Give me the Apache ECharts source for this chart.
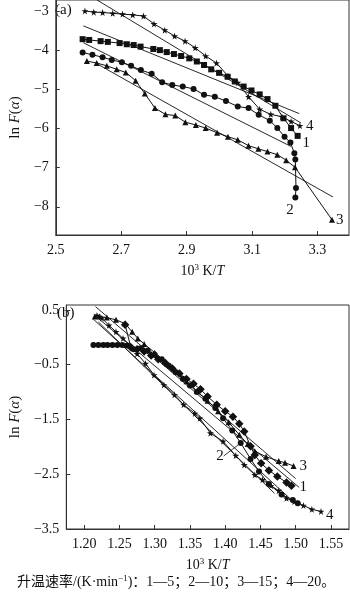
<!DOCTYPE html>
<html><head><meta charset="utf-8">
<script src="https://cdn.jsdelivr.net/npm/echarts@6/dist/echarts.min.js"></script>
<style>html,body{margin:0;padding:0;background:#fff}#c{width:350px;height:592px}</style>
</head><body><div id="c"></div>
<script>
// ---------- Panel (a) data ----------
const aXTicks = [2.5, 2.7, 2.9, 3.1, 3.3];
const aYTicks = [-8, -7, -6, -5, -4, -3];
const aSeries1 = [[2.582,-3.72],[2.602,-3.74],[2.637,-3.77],[2.659,-3.79],[2.695,-3.82],[2.717,-3.85],[2.738,-3.87],[2.759,-3.91],[2.798,-3.97],[2.818,-4.00],[2.839,-4.05],[2.861,-4.10],[2.883,-4.15],[2.908,-4.21],[2.931,-4.29],[2.953,-4.38],[2.975,-4.49],[2.999,-4.58],[3.025,-4.68],[3.047,-4.80],[3.074,-4.93],[3.098,-5.03],[3.123,-5.13],[3.147,-5.25],[3.171,-5.42],[3.196,-5.74],[3.219,-5.99],[3.239,-6.19]];
const aSeries2 = [[2.582,-4.06],[2.612,-4.12],[2.643,-4.18],[2.671,-4.25],[2.702,-4.31],[2.730,-4.40],[2.760,-4.51],[2.793,-4.60],[2.825,-4.82],[2.856,-4.89],[2.888,-4.93],[2.921,-4.99],[2.953,-5.14],[2.986,-5.19],[3.020,-5.30],[3.056,-5.44],[3.089,-5.48],[3.120,-5.65],[3.154,-5.80],[3.177,-5.99],[3.199,-6.21],[3.217,-6.36],[3.229,-6.63],[3.232,-6.79],[3.234,-7.52],[3.232,-7.76]];
const aSeries3 = [[2.595,-4.28],[2.625,-4.33],[2.656,-4.40],[2.686,-4.49],[2.714,-4.57],[2.744,-4.78],[2.772,-5.11],[2.803,-5.48],[2.835,-5.64],[2.865,-5.67],[2.896,-5.84],[2.928,-5.91],[2.958,-5.99],[2.993,-6.11],[3.026,-6.21],[3.056,-6.29],[3.089,-6.44],[3.119,-6.52],[3.147,-6.59],[3.177,-6.67],[3.204,-6.81],[3.231,-6.99],[3.344,-8.33]];
const aSeries4 = [[2.589,-3.00],[2.616,-3.03],[2.643,-3.04],[2.674,-3.06],[2.704,-3.08],[2.735,-3.10],[2.768,-3.13],[2.800,-3.33],[2.833,-3.49],[2.863,-3.64],[2.895,-3.77],[2.926,-3.94],[2.958,-4.15],[2.991,-4.33],[3.026,-4.66],[3.056,-4.83],[3.089,-5.19],[3.123,-5.51],[3.157,-5.64],[3.191,-5.70],[3.219,-5.82],[3.246,-5.93]];
const aFit1 = [[2.584,-3.38],[3.244,-5.62]];
const aFit2 = [[2.584,-3.81],[3.219,-6.46]];
const aFit3 = [[2.622,-4.33],[3.347,-7.75]];
const aFit4 = [[2.626,-2.72],[3.249,-5.86]];

// ---------- Panel (b) data ----------
const bXTicks = [1.20, 1.25, 1.30, 1.35, 1.40, 1.45, 1.50, 1.55];
const bYTicks = [-3.5, -2.5, -1.5, -0.5, 0.5];
const bSeries1 = [[1.258,0.23],[1.266,-0.18],[1.275,-0.22],[1.285,-0.26],[1.295,-0.33],[1.305,-0.40],[1.315,-0.47],[1.325,-0.57],[1.335,-0.66],[1.345,-0.76],[1.355,-0.85],[1.365,-0.95],[1.375,-1.08],[1.388,-1.23],[1.400,-1.35],[1.411,-1.45],[1.420,-1.58],[1.427,-1.72],[1.436,-1.99],[1.442,-2.15],[1.451,-2.30],[1.462,-2.43],[1.474,-2.54],[1.487,-2.65],[1.494,-2.71]];
const bSeries2 = [[1.213,-0.14],[1.220,-0.14],[1.227,-0.14],[1.233,-0.14],[1.240,-0.14],[1.247,-0.14],[1.254,-0.14],[1.261,-0.15],[1.270,-0.22],[1.280,-0.20],[1.290,-0.24],[1.300,-0.32],[1.310,-0.40],[1.320,-0.52],[1.330,-0.64],[1.340,-0.76],[1.350,-0.88],[1.360,-1.00],[1.372,-1.12],[1.386,-1.29],[1.397,-1.48],[1.410,-1.70],[1.422,-1.93],[1.436,-2.22],[1.448,-2.45],[1.462,-2.68],[1.480,-2.87],[1.496,-2.97],[1.503,-3.03]];
const bSeries3 = [[1.215,0.38],[1.222,0.38],[1.232,0.36],[1.245,0.32],[1.258,0.25],[1.268,0.10],[1.276,-0.02],[1.285,-0.12],[1.300,-0.28],[1.315,-0.45],[1.330,-0.62],[1.345,-0.80],[1.360,-0.98],[1.375,-1.16],[1.390,-1.35],[1.405,-1.55],[1.420,-1.78],[1.432,-1.95],[1.442,-2.08],[1.458,-2.18],[1.476,-2.26],[1.485,-2.29],[1.497,-2.35]];
const bSeries4 = [[1.218,0.40],[1.225,0.35],[1.235,0.22],[1.245,0.10],[1.255,-0.02],[1.265,-0.15],[1.275,-0.30],[1.287,-0.48],[1.299,-0.69],[1.313,-0.87],[1.328,-1.05],[1.341,-1.23],[1.357,-1.39],[1.364,-1.48],[1.379,-1.75],[1.397,-1.90],[1.415,-2.16],[1.427,-2.33],[1.442,-2.51],[1.453,-2.60],[1.465,-2.71],[1.476,-2.80],[1.487,-2.94],[1.498,-3.00],[1.511,-3.07],[1.523,-3.14],[1.536,-3.18]];
const bFit1 = [[1.214,0.41],[1.505,-2.74]];
const bFit2 = [[1.213,0.33],[1.490,-2.92]];
const bFit3 = [[1.216,0.56],[1.500,-2.58]];
const bFit4 = [[1.220,0.28],[1.470,-2.85]];
const b2LabelIndex = 22;

const seriesNames = ['1', '2', '3', '4'];
const caption = '升温速率/(K·min{sup|−1})：1—5；2—10；3—15；4—20。';

// ---------- styling ----------
const FONT = "'Liberation Serif','Noto Sans CJK SC',serif";
const INK = '#111';
const STAR = 'path://M50,0 L61,35 L98,35 L68,57 L79,91 L50,70 L21,91 L32,57 L2,35 L39,35 Z';
const minus = v => (v < 0 ? '\u2212' + String(Math.abs(v)) : String(v));

function axisCommon() {
  return {
    type: 'value',
    axisLine: { show: true, onZero: false, lineStyle: { color: '#333', width: 1 } },
    axisTick: { show: true, inside: true, length: 4, lineStyle: { color: '#333' } },
    splitLine: { show: false },
    axisLabel: { color: INK, fontFamily: FONT, fontSize: 14 },
    nameTextStyle: { color: INK, fontFamily: FONT, fontSize: 14 }
  };
}
const yName = '{n|ln }{i|F}{n|(}{i|α}{n|)}';
const yRich = { n: { fontFamily: FONT, fontSize: 15, color: INK }, i: { fontFamily: FONT, fontSize: 15, fontStyle: 'italic', color: INK } };
const xName = '{n|10}{s|3}{n| K/}{i|T}';
const xRich = { n: { fontFamily: FONT, fontSize: 14, color: INK }, s: { fontFamily: FONT, fontSize: 9, color: INK, verticalAlign: 'bottom', padding: [0, 0, 7, 0] }, i: { fontFamily: FONT, fontSize: 14, fontStyle: 'italic', color: INK } };

function dataLine(data, xi, symbol, size, name, endOffset, rotate) {
  return {
    type: 'line', xAxisIndex: xi, yAxisIndex: xi, data: data,
    symbol: symbol, symbolSize: size, symbolRotate: rotate || 0, showSymbol: true,
    lineStyle: { color: INK, width: 1 }, itemStyle: { color: INK, borderWidth: 0 },
    emphasis: { disabled: true }, silent: true, z: 3,
    endLabel: endOffset ? { show: true, formatter: name, color: INK, fontFamily: FONT, fontSize: 15, offset: endOffset, distance: 0 } : { show: false }
  };
}
function fitLine(data, xi) {
  return { type: 'line', xAxisIndex: xi, yAxisIndex: xi, data: data, symbol: 'none', lineStyle: { color: INK, width: 0.9 }, silent: true, z: 2 };
}

const chart = echarts.init(document.getElementById('c'), null, { renderer: 'canvas' });

const b2Data = bSeries2.map((p, i) => i === b2LabelIndex ? { value: p, label: { show: true, formatter: seriesNames[1], color: INK, fontFamily: FONT, fontSize: 15, position: 'left', distance: 0 } } : p);

const option = {
  animation: false,
  backgroundColor: '#fff',
  grid: [
    { left: 51, top: 0, width: 298, height: 235, show: true, borderColor: '#333', borderWidth: 1, backgroundColor: 'transparent' },
    { left: 51, top: 305, width: 298, height: 224, show: true, borderColor: '#333', borderWidth: 1, backgroundColor: 'transparent' }
  ],
  xAxis: [
    Object.assign(axisCommon(), { gridIndex: 0, min: 2.5, max: 3.396,
      axisLabel: Object.assign(axisCommon().axisLabel, { customValues: aXTicks, formatter: v => v.toFixed(1), margin: 8 }),
      axisTick: Object.assign(axisCommon().axisTick, { customValues: aXTicks }),
      name: xName, nameLocation: 'middle', nameGap: 28, nameTextStyle: { rich: xRich } }),
    Object.assign(axisCommon(), { gridIndex: 1, min: 1.1745, max: 1.5757,
      axisLabel: Object.assign(axisCommon().axisLabel, { customValues: bXTicks, formatter: v => v.toFixed(2), margin: 8 }),
      axisTick: Object.assign(axisCommon().axisTick, { customValues: bXTicks }),
      name: xName, nameLocation: 'middle', nameGap: 28, nameTextStyle: { rich: xRich } })
  ],
  yAxis: [
    Object.assign(axisCommon(), { gridIndex: 0, min: -8.72, max: -2.72,
      axisLabel: Object.assign(axisCommon().axisLabel, { customValues: aYTicks, formatter: v => minus(v), margin: 7 }),
      axisTick: Object.assign(axisCommon().axisTick, { customValues: aYTicks }),
      name: yName, nameLocation: 'middle', nameGap: 30, nameRotate: 90, nameTextStyle: { rich: yRich } }),
    Object.assign(axisCommon(), { gridIndex: 1, min: -3.5, max: 0.59,
      axisLabel: Object.assign(axisCommon().axisLabel, { customValues: bYTicks, formatter: v => minus(Number(v.toFixed(1))), margin: 7 }),
      axisTick: Object.assign(axisCommon().axisTick, { customValues: bYTicks }),
      name: yName, nameLocation: 'middle', nameGap: 38, nameRotate: 90, nameTextStyle: { rich: yRich } })
  ],
  graphic: [
    { type: 'text', left: 55, top: 3, style: { text: '(a)', fill: INK, font: "15px " + FONT } },
    { type: 'text', left: 57, top: 306, style: { text: '(b)', fill: INK, font: "15px " + FONT } },
    { type: 'text', left: 17, top: 574, style: { text: caption, fill: INK, font: "14px " + FONT,
      rich: { sup: { fontSize: 9, fontFamily: FONT, fill: INK, verticalAlign: 'bottom', padding: [0, 0, 7, 0] } } } }
  ],
  series: [
    fitLine(aFit1, 0), fitLine(aFit2, 0), fitLine(aFit3, 0), fitLine(aFit4, 0),
    dataLine(aSeries1, 0, 'rect', 6, seriesNames[0], [5, 7]),
    dataLine(aSeries2, 0, 'circle', 6, seriesNames[1], [-9, 13]),
    dataLine(aSeries3, 0, 'triangle', 6, seriesNames[2], [4, 0]),
    dataLine(aSeries4, 0, STAR, 7, seriesNames[3], [6, 0]),
    fitLine(bFit1, 1), fitLine(bFit2, 1), fitLine(bFit3, 1), fitLine(bFit4, 1),
    dataLine(bSeries1, 1, 'rect', 6, seriesNames[0], [8, 1], 45),
    Object.assign(dataLine(b2Data, 1, 'circle', 6, seriesNames[1], null), {
      labelLine: { show: true, lineStyle: { color: INK, width: 0.8 } },
      labelLayout: function (p) { if (p.dataIndex === b2LabelIndex) { return { dx: -14, dy: 13 }; } return {}; }
    }),
    dataLine(bSeries3, 1, 'triangle', 6, seriesNames[2], [6, 0]),
    dataLine(bSeries4, 1, STAR, 7, seriesNames[3], [5, 4])
  ]
};
chart.setOption(option);
</script></body></html>
